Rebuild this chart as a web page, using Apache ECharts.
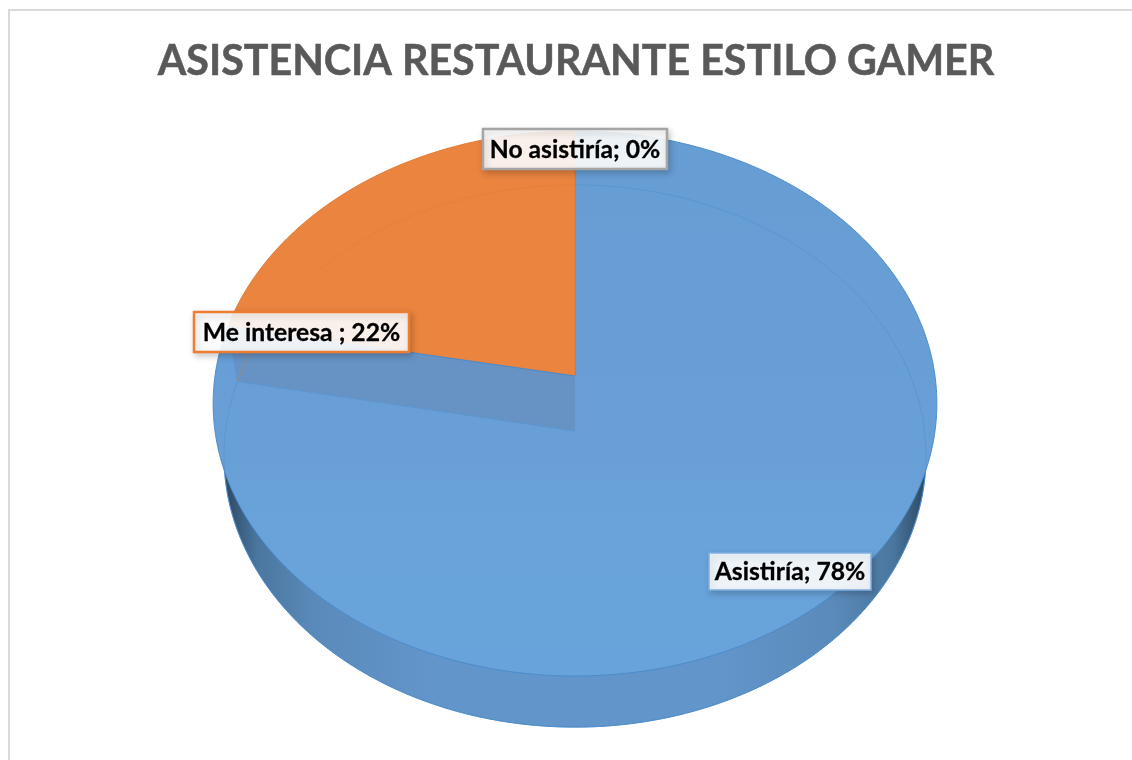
<!DOCTYPE html>
<html>
<head>
<meta charset="utf-8">
<style>html,body{margin:0;padding:0;background:#fff}#chart{width:1132px;height:760px}</style>
<script src="https://cdn.jsdelivr.net/npm/echarts@6/dist/echarts.min.js"></script>
</head>
<body>
<div id="chart"></div>
<script>
// Chart content
const chartTitle = 'ASISTENCIA RESTAURANTE ESTILO GAMER';
const categories = ['Asistiría', 'Me interesa ', 'No asistiría'];
const percentages = [78, 22, 0];

// Layout and styling of the tilted disc
const topPlane = { cx: 575, apexY: 376, a: -231.8, k: 0.1009, s: 360 };
const bottomPlane = { cx: 575, apexY: 431, a: -229, k: 0.0923, s: 349.5 };
const faceColors = ['#68a1d8', '#ea843f', '#a5a5a5'];
const edgeColors = ['#4a8ccb', '#e27a32', '#a5a5a5'];
const labelBoxes = [
  { x: 709, y: 553, w: 162, h: 37, border: '#7fb0e0', bw: 1.5 },
  { x: 194, y: 312, w: 215, h: 40, border: '#ed7d31', bw: 2.5 },
  { x: 483, y: 129, w: 184, h: 40, border: '#a5a5a5', bw: 2.5 }
];

const total = percentages.reduce((sum, v) => sum + v, 0);
// Cumulative clockwise start/end angles, measured from twelve o'clock
const sliceAngles = [];
percentages.reduce((acc, v) => {
  const end = acc + (v / total) * Math.PI * 2;
  sliceAngles.push([acc, end]);
  return end;
}, 0);

// Perspective projection of the unit disc onto the screen
function project(plane, u, v) {
  const w = 1 + plane.k * v;
  return [plane.cx + (plane.s * u) / w, (plane.a * v + plane.apexY) / w];
}
function rimPoint(plane, angle) {
  return project(plane, Math.sin(angle), Math.cos(angle));
}
function rimArc(plane, from, to) {
  const steps = Math.max(2, Math.ceil(Math.abs(to - from) / 0.006));
  const pts = [];
  for (let i = 0; i <= steps; i++) pts.push(rimPoint(plane, from + ((to - from) * i) / steps));
  return pts;
}
function sectorPoints(plane, from, to) {
  return [project(plane, 0, 0)].concat(rimArc(plane, from, to));
}

const wallGradient = {
  type: 'linear', x: 213, y: 0, x2: 937, y2: 0, global: true,
  colorStops: [
    { offset: 0, color: '#22364b' },
    { offset: 0.02, color: '#2f4c68' },
    { offset: 0.06, color: '#4a769e' },
    { offset: 0.14, color: '#5a8aba' },
    { offset: 0.3, color: '#6295ca' },
    { offset: 0.7, color: '#6295ca' },
    { offset: 0.86, color: '#5a8aba' },
    { offset: 0.94, color: '#4a769e' },
    { offset: 0.98, color: '#2f4c68' },
    { offset: 1, color: '#22364b' }
  ]
};
const blueFace = {
  type: 'linear', x: 0, y: 130, x2: 0, y2: 676, global: true,
  colorStops: [
    { offset: 0, color: '#669dd3' },
    { offset: 0.6, color: '#699fd7' },
    { offset: 0.72, color: '#69a3da' },
    { offset: 1, color: '#69a3db' }
  ]
};

const seriesData = categories.map((name, i) => ({ name, value: percentages[i] }));

function layer(renderItem, z) {
  return {
    type: 'custom', coordinateSystem: 'none', data: seriesData,
    silent: true, animation: false, clip: false, z, renderItem
  };
}

// Side wall: the lower disc, mostly hidden by the top face
const wallLayer = layer((params, api) => {
  if (!api.value(0)) return null;
  const [from, to] = sliceAngles[params.dataIndex];
  return {
    type: 'polygon',
    shape: { points: sectorPoints(bottomPlane, from, to) },
    style: { fill: wallGradient, stroke: '#4a8ccb', lineWidth: 1 }
  };
}, 1);

// Top face of every slice
const faceLayer = layer((params, api) => {
  if (!api.value(0)) return null;
  const i = params.dataIndex;
  const [from, to] = sliceAngles[i];
  return {
    type: 'polygon',
    shape: { points: sectorPoints(topPlane, from, to) },
    style: { fill: i === 0 ? blueFace : faceColors[i], stroke: edgeColors[i], lineWidth: 1 }
  };
}, 2);

// Cut wall and lower rim showing through the translucent top
const throughLayer = layer((params, api) => {
  if (!api.value(0)) return null;
  const i = params.dataIndex;
  const [from, to] = sliceAngles[i];
  const children = [{
    type: 'polyline',
    shape: { points: rimArc(bottomPlane, from, to) },
    style: { fill: null, stroke: edgeColors[i], lineWidth: 1, opacity: 0.45 }
  }];
  if (i === 0) {
    children.push({
      type: 'polygon',
      shape: {
        points: [
          project(topPlane, 0, 0), rimPoint(topPlane, to),
          rimPoint(bottomPlane, to), project(bottomPlane, 0, 0)
        ]
      },
      style: { fill: '#6693c4' }
    });
    children.push({
      type: 'polyline',
      shape: { points: [rimPoint(topPlane, to), rimPoint(bottomPlane, to), project(bottomPlane, 0, 0)] },
      style: { fill: null, stroke: '#5c95d0', lineWidth: 1 }
    });
    children.push({
      type: 'polyline',
      shape: { points: [project(topPlane, 0, 0), rimPoint(topPlane, to)] },
      style: { fill: null, stroke: '#4a8ccb', lineWidth: 1 }
    });
  }
  return { type: 'group', children };
}, 3);

// Data labels
const labelLayer = layer((params, api) => {
  const i = params.dataIndex;
  const box = labelBoxes[i];
  return {
    type: 'group',
    children: [
      {
        type: 'rect',
        shape: { x: box.x, y: box.y, width: box.w, height: box.h },
        style: {
          fill: 'rgba(255,255,255,0.9)', stroke: box.border, lineWidth: box.bw,
          shadowBlur: 6, shadowColor: 'rgba(0,0,0,0.2)', shadowOffsetX: 2, shadowOffsetY: 3
        }
      },
      {
        type: 'text',
        style: {
          x: box.x + box.w / 2, y: box.y + box.h / 2 + 1,
          text: categories[i] + '; ' + api.value(0) + '%',
          align: 'center', verticalAlign: 'middle',
          fill: '#000', font: 'bold 24.7px Lato',
          stroke: '#000', lineWidth: 0.3
        }
      }
    ]
  };
}, 4);

const chart = echarts.init(document.getElementById('chart'), null, { renderer: 'canvas' });
chart.setOption({
  animation: false,
  backgroundColor: '#fff',
  title: {
    text: chartTitle,
    left: 571, top: 36, textAlign: 'center',
    textStyle: {
      color: '#595959', fontFamily: 'Lato', fontWeight: 'bold', fontSize: 41.2,
      textBorderColor: '#595959', textBorderWidth: 0.5
    }
  },
  graphic: [{
    type: 'rect', silent: true, z: 0,
    shape: { x: 9, y: 10, width: 1300, height: 900 },
    style: { fill: 'none', stroke: '#d9d9d9', lineWidth: 2 }
  }],
  series: [wallLayer, faceLayer, throughLayer, labelLayer]
});
</script>
</body>
</html>
